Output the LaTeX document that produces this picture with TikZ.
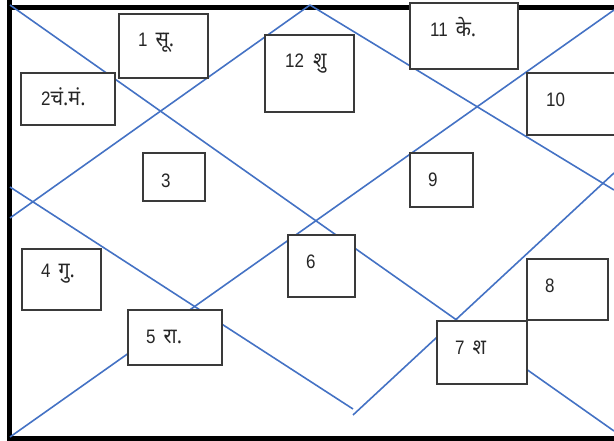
\documentclass[tikz,border=0pt]{standalone}
\usepackage{fontspec}
\setmainfont{Liberation Sans}[FakeStretch=0.87]
\newfontfamily\deva[Script=Devanagari,Scale=1.1,FakeStretch=0.92]{Noto Sans}
\definecolor{chartblue}{HTML}{4472C4}
\definecolor{boxgray}{HTML}{3A3A3A}
\begin{document}
\begin{tikzpicture}[x=1pt,y=-1pt,
  frame/.style={line width=5pt,black},
  chartline/.style={line width=1.6pt,chartblue},
  box/.style={draw=boxgray,line width=1.3pt,fill=white,rectangle,inner sep=0pt,outer sep=0pt,anchor=north west},
  txt/.style={inner sep=0pt,anchor=base west,text=black!85,font=\fontsize{19.5}{22}\selectfont}]
\useasboundingbox (0,0) rectangle (614,441);
% frame
\coordinate (fa) at (9.3,0);
\coordinate (fb) at (9.3,445);
\coordinate (fc) at (6.8,7.5);
\coordinate (fd) at (620,7.5);
\coordinate (fe) at (6.8,438.7);
\coordinate (ff) at (620,438.7);
\draw[frame] (fa) -- (fb);
\draw[frame] (fc) -- (fd);
\draw[frame] (fe) -- (ff);
% chart lines
\coordinate (tl) at (10,5);
\coordinate (br) at (614,431);
\coordinate (bl) at (10,437);
\coordinate (tr) at (614,10);
\coordinate (lm1) at (10,218);
\coordinate (tm) at (310,5);
\coordinate (rm1) at (614,190);
\coordinate (lm2) at (10,187);
\coordinate (bm1) at (353,409);
\coordinate (bm2) at (353,415);
\coordinate (rm2) at (614,173);
\draw[chartline] (tl) -- (br);
\draw[chartline] (bl) -- (tr);
\draw[chartline] (lm1) -- (tm);
\draw[chartline] (tm) -- (rm1);
\draw[chartline] (lm2) -- (bm1);
\draw[chartline] (bm2) -- (rm2);
% boxes
\node[box,minimum width=89pt,minimum height=64pt] (b1) at (119,14) {};
\node[box,minimum width=94pt,minimum height=52pt] (b2) at (21,73) {};
\node[box,minimum width=62pt,minimum height=48pt] (b3) at (143,153) {};
\node[box,minimum width=89pt,minimum height=77pt] (b12) at (265,35) {};
\node[box,minimum width=108pt,minimum height=66pt] (b11) at (410,3) {};
\node[box,minimum width=93pt,minimum height=62pt] (b10) at (527,73) {};
\node[box,minimum width=63pt,minimum height=54pt] (b9) at (410,153) {};
\node[box,minimum width=79pt,minimum height=61pt] (b4) at (22,249) {};
\node[box,minimum width=94pt,minimum height=55pt] (b5) at (128,310) {};
\node[box,minimum width=67pt,minimum height=62pt] (b6) at (288,235) {};
\node[box,minimum width=90pt,minimum height=63pt] (b7) at (437,321) {};
\node[box,minimum width=81pt,minimum height=61pt] (b8) at (527,259) {};
% texts
\node[txt] (t1) at (138,47) {1\hspace{8pt}{\deva सू.}};
\node[txt] (t2) at (41,105.5) {2{\deva चं.मं.}};
\node[txt] (t3) at (161,188) {3};
\node[txt] (t12) at (285,68) {12\hspace{9pt}{\deva शु}};
\node[txt] (t11) at (430,37) {11\hspace{8pt}{\deva के.}};
\node[txt] (t10) at (546,107) {10};
\node[txt] (t9) at (428,187) {9};
\node[txt] (t4) at (41,278) {4\hspace{8pt}{\deva गु.}};
\node[txt] (t5) at (146,343) {5\hspace{8pt}{\deva रा.}};
\node[txt] (t6) at (306,269) {6};
\node[txt] (t7) at (455,354) {7\hspace{8pt}{\deva श}};
\node[txt] (t8) at (545,293) {8};
\end{tikzpicture}
\end{document}
